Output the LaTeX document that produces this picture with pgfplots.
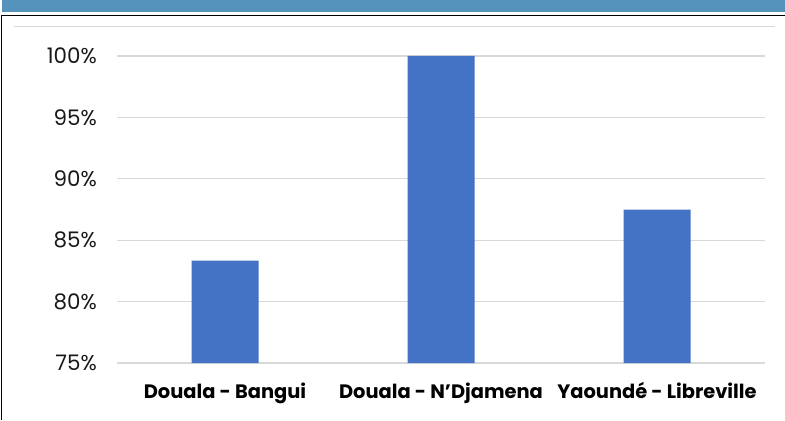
\documentclass[border=0pt]{standalone}
\usepackage{pgfplots}
\pgfplotsset{compat=1.18}
\usepackage{fontspec}
\setmainfont{Poppins}
\definecolor{band}{RGB}{85,147,188}
\definecolor{barblue}{RGB}{68,114,196}
\definecolor{gridgray}{RGB}{217,217,217}
\begin{document}
\begin{tikzpicture}[x=1bp,y=1bp]
\useasboundingbox (0,0) rectangle (785,420);
\fill[white] (0,0) rectangle (785,420);
\fill[band] (2,408) rectangle (785,420);
\draw[black,line width=1.4bp] (1.5,0) -- (1.5,404.5) -- (785,404.5);
\draw[gridgray,line width=1.5bp] (14,393.5) -- (775,393.5);
\begin{axis}[
  at={(117bp,57bp)}, anchor=south west,
  scale only axis, width=648bp, height=307bp,
  xmin=-0.5, xmax=2.5, ymin=75, ymax=100,
  axis line style={draw=none},
  ytick={75,80,...,100},
  yticklabel={\pgfmathprintnumber{\tick}\%},
  /pgf/number format/assume math mode=true,
  ymajorgrids, grid style={gridgray, line width=1.3bp},
  major tick length=0pt,
  xtick=data,
  xticklabels={Douala - Bangui, Douala - N’Djamena, Yaoundé - Libreville},
  yticklabel style={font=\fontsize{21.5}{25}\selectfont, text=black!90, anchor=east, inner sep=0pt, xshift=-20bp},
  xticklabel style={font=\bfseries\fontsize{19.5}{23}\selectfont, anchor=base, inner sep=0pt, yshift=-35bp},
  ybar, bar width=67bp,
  clip=false,
]
\addplot[fill=barblue, draw=none] coordinates {(0,83.33) (1,100) (2,87.5)};
\end{axis}
\end{tikzpicture}
\end{document}
